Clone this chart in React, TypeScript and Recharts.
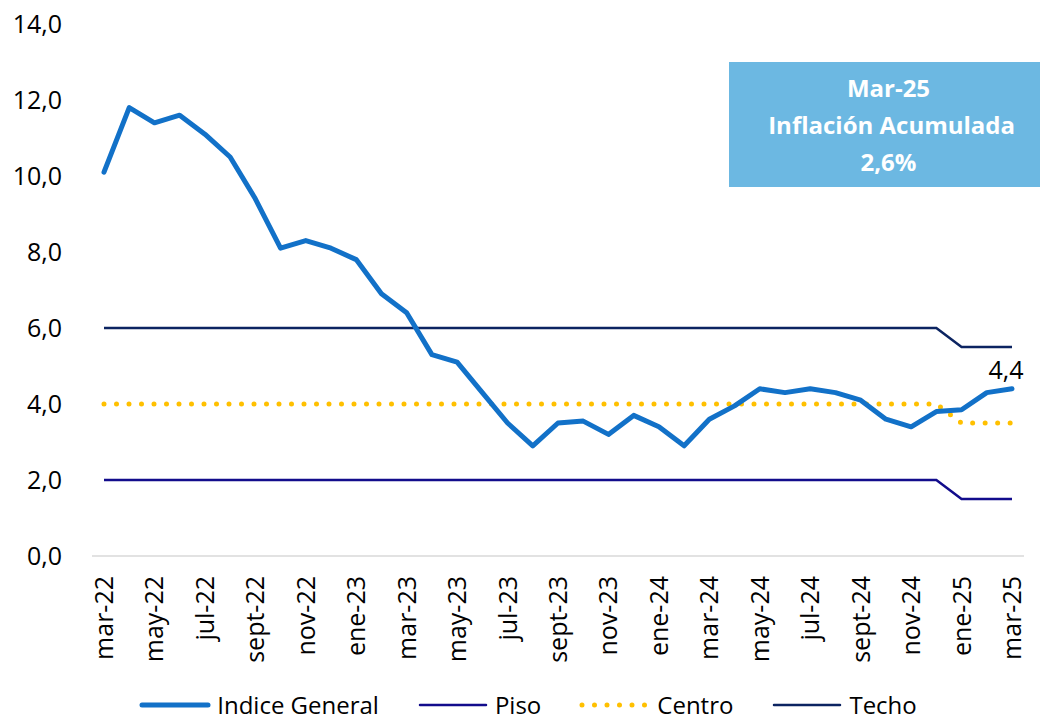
import React from 'react';
import { LineChart, Line, XAxis, YAxis, Legend, LabelList } from 'recharts';

const months = [
  'mar-22','abr-22','may-22','jun-22','jul-22','ago-22','sept-22','oct-22','nov-22','dic-22','ene-23','feb-23',
  'mar-23','abr-23','may-23','jun-23','jul-23','ago-23','sept-23','oct-23','nov-23','dic-23','ene-24','feb-24',
  'mar-24','abr-24','may-24','jun-24','jul-24','ago-24','sept-24','oct-24','nov-24','dic-24','ene-25','feb-25','mar-25'
];
const indice = [10.1, 11.8, 11.4, 11.6, 11.1, 10.5, 9.4, 8.1, 8.3, 8.1, 7.8, 6.9, 6.4,
  5.3, 5.1, 4.3, 3.5, 2.9, 3.5, 3.55, 3.2, 3.7, 3.4, 2.9, 3.6,
  3.95, 4.4, 4.3, 4.4, 4.3, 4.1, 3.6, 3.4, 3.8, 3.85, 4.3, 4.4];
const piso = [2,2,2,2,2,2,2,2,2,2,2,2,2,2,2,2,2,2,2,2,2,2,2,2,2,2,2,2,2,2,2,2,2,2,1.5,1.5,1.5];
const centro = [4,4,4,4,4,4,4,4,4,4,4,4,4,4,4,4,4,4,4,4,4,4,4,4,4,4,4,4,4,4,4,4,4,4,3.5,3.5,3.5];
const techo = [6,6,6,6,6,6,6,6,6,6,6,6,6,6,6,6,6,6,6,6,6,6,6,6,6,6,6,6,6,6,6,6,6,6,5.5,5.5,5.5];
const yTicks = [0, 2, 4, 6, 8, 10, 12, 14];
const boxLines = ['Mar-25', ' Inflación Acumulada', '2,6%'];

const data = months.map((m, i) => ({
  month: m,
  indice: indice[i],
  piso: piso[i],
  centro: centro[i],
  techo: techo[i],
}));

const FONT = '"Open Sans", sans-serif';
const C_INDICE = '#1271C8';
const C_PISO = '#120C8C';
const C_CENTRO = '#FFC000';
const C_TECHO = '#0C2461';

const fmt = (v: number) => v.toFixed(1).replace('.', ',');

const XTick = (props: any) => {
  const { x, y, payload } = props;
  return (
    <text
      x={0}
      y={0}
      transform={`translate(${x},${y + 20}) rotate(-90)`}
      textAnchor="end"
      dy="0.36em"
      fontSize={25}
      fontFamily={FONT}
      fill="#000"
    >
      {payload.value}
    </text>
  );
};

const lastLabel = (props: any) => {
  const { x, y, index, value } = props;
  if (index !== indice.length - 1) return null;
  return (
    <text x={x - 6} y={y - 10} textAnchor="middle" fontSize={25} fontFamily={FONT} fill="#000">
      {fmt(value)}
    </text>
  );
};

const legendItems = [
  { name: 'Indice General', color: C_INDICE, width: 5, dash: undefined as string | undefined },
  { name: 'Piso', color: C_PISO, width: 2.5, dash: undefined as string | undefined },
  { name: 'Centro', color: C_CENTRO, width: 5, dash: '0 12.5' },
  { name: 'Techo', color: C_TECHO, width: 2.5, dash: undefined as string | undefined },
];

const renderLegend = () => (
  <div style={{ display: 'flex', justifyContent: 'center', alignItems: 'center', height: 40, paddingTop: 10, paddingLeft: 32, boxSizing: 'border-box', fontFamily: FONT, fontSize: 24, lineHeight: '26px', color: '#000' }}>
    {legendItems.map((it, i) => (
      <div key={it.name} style={{ display: 'flex', alignItems: 'center', marginLeft: i === 0 ? 0 : 38, height: 26 }}>
        <svg width={72} height={12} style={{ marginRight: 6 }}>
          <line x1={3} y1={6} x2={69} y2={6} stroke={it.color} strokeWidth={it.width}
            strokeDasharray={it.dash} strokeLinecap="round" />
        </svg>
        <span>{it.name}</span>
      </div>
    ))}
  </div>
);

export default function App() {
  return (
    <div style={{ position: 'absolute', left: 0, top: 0, width: 1050, height: 720, background: '#fff' }}>
      <LineChart width={1050} height={720} data={data} margin={{ top: 24, right: 26, left: 0, bottom: 0 }}>
        <XAxis
          dataKey="month"
          interval={1}
          tick={<XTick />}
          tickLine={false}
          tickSize={0}
          tickMargin={0}
          height={124}
          padding={{ left: 12, right: 12 }}
          axisLine={{ stroke: '#D9D9D9', strokeWidth: 1.5 }}
        />
        <YAxis
          domain={[0, 14]}
          ticks={yTicks}
          tickFormatter={fmt}
          width={92}
          axisLine={false}
          tickLine={false}
          tickSize={0}
          tickMargin={30}
          tick={{ fontSize: 25, fontFamily: FONT, fill: '#000' }}
        />
        <Legend verticalAlign="bottom" height={40} content={renderLegend} />
        <Line dataKey="piso" name="Piso" stroke={C_PISO} strokeWidth={2.5} dot={false} activeDot={false} isAnimationActive={false} />
        <Line dataKey="techo" name="Techo" stroke={C_TECHO} strokeWidth={2.5} dot={false} activeDot={false} isAnimationActive={false} />
        <Line dataKey="centro" name="Centro" stroke={C_CENTRO} strokeWidth={5} strokeDasharray="0 12.5" strokeLinecap="round" dot={false} activeDot={false} isAnimationActive={false} />
        <Line dataKey="indice" name="Indice General" stroke={C_INDICE} strokeWidth={5} strokeLinejoin="round" strokeLinecap="round" dot={false} activeDot={false} isAnimationActive={false}>
          <LabelList dataKey="indice" content={lastLabel} />
        </Line>
      </LineChart>
      <div style={{
        position: 'absolute', left: 729, top: 62, width: 311, height: 125, background: '#6CB8E2',
        color: '#fff', fontFamily: FONT, fontWeight: 700, fontSize: 24, textAlign: 'center',
        display: 'flex', flexDirection: 'column', justifyContent: 'center', lineHeight: '37px', whiteSpace: 'pre',
        paddingLeft: 8, boxSizing: 'border-box'
      }}>
        {boxLines.map((l) => <div key={l}>{l}</div>)}
      </div>
    </div>
  );
}
